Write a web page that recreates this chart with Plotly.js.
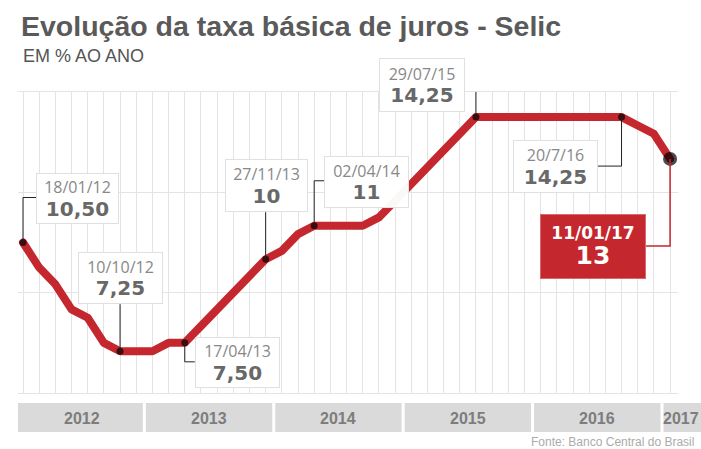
<!DOCTYPE html>
<html><head><meta charset="utf-8">
<script src="https://cdn.plot.ly/plotly-3.0.1.min.js"></script>
<style>html,body{margin:0;padding:0;background:#fff}#chart{width:701px;height:449px}
#chart .js-line{stroke-linejoin:round !important;stroke-linecap:round !important}</style>
</head><body><div id="chart"></div>
<script>
// ---- data ----
const meetingDates = ['18/01/12','07/03/12','18/04/12','30/05/12','11/07/12','29/08/12','10/10/12','28/11/12',
  '16/01/13','06/03/13','17/04/13','29/05/13','10/07/13','28/08/13','09/10/13','27/11/13',
  '15/01/14','26/02/14','02/04/14','28/05/14','16/07/14','03/09/14','29/10/14','03/12/14',
  '21/01/15','04/03/15','29/04/15','03/06/15','29/07/15','02/09/15','21/10/15','25/11/15',
  '20/01/16','02/03/16','27/04/16','08/06/16','20/07/16','31/08/16','19/10/16','30/11/16',
  '11/01/17'];
const selic = [10.50, 9.75, 9.25, 8.50, 8.25, 7.50, 7.25, 7.25,
  7.25, 7.50, 7.50, 8.00, 8.50, 9.00, 9.50, 10.00,
  10.25, 10.75, 11.00, 11.00, 11.00, 11.00, 11.25, 11.75,
  12.25, 12.75, 13.25, 13.75, 14.25, 14.25, 14.25, 14.25,
  14.25, 14.25, 14.25, 14.25, 14.25, 14.25, 14.00, 13.75,
  13.00];
const highlightAt = ['18/01/12','10/10/12','17/04/13','27/11/13','02/04/14','29/07/15','31/08/16','11/01/17'];
const highlightDate = ['18/01/12','10/10/12','17/04/13','27/11/13','02/04/14','29/07/15','20/7/16','11/01/17'];
const highlightValue = ['10,50','7,25','7,50','10','11','14,25','14,25','13'];
const years = ['2012','2013','2014','2015','2016','2017'];
const titleText = 'Evolução da taxa básica de juros - Selic';
const subtitleText = 'EM % AO ANO';
const sourceText = 'Fonte: Banco Central do Brasil';

// ---- styles / placement (pixels relative to the highlighted point) ----
const boxStyle = [
  {dx: 54.5, dy: -44.5, w: 83, h: 51, path: 'M0,0V45H13'},
  {dx: 0.5, dy: -73, w: 85, h: 52, path: 'M0,0V47'},
  {dx: 52.5, dy: 19.5, w: 85, h: 51, path: 'M0,0V-19H10'},
  {dx: 0.5, dy: -73.5, w: 83, h: 53, path: 'M0,0V47'},
  {dx: 52.5, dy: -44, w: 85, h: 52, path: 'M0,0V45H10'},
  {dx: -54, dy: -32, w: 86, h: 54, path: 'M0,0V32H-11'},
  {dx: -66.5, dy: 49.5, w: 85, h: 53, path: 'M0,0V-49H-24'},
  {dx: -77, dy: 87.5, w: 106, h: 65, path: 'M0,0V-87H-24', red: true}
];
const RED = '#c5272e';
const xr = [-0.309, 40.49];
const plotL = 18, plotR = 23, plotT = 92, plotB = 56, W = 701, H = 449;
const pw = W - plotL - plotR, ph = H - plotT - plotB;
const idxToPaper = i => (i - xr[0]) / (xr[1] - xr[0]);
const pxToPaperX = px => (px - plotL) / pw;
const pxToPaperY = py => (H - plotB - py) / ph;

const hlIdx = highlightAt.map(d => meetingDates.indexOf(d));
const hlY = hlIdx.map(i => selic[i]);

const traces = [
  {x: meetingDates, y: selic, type: 'scatter', mode: 'lines',
   line: {color: RED, width: 8, shape: 'linear'}, hoverinfo: 'skip'},
  {x: highlightAt, y: hlY, type: 'scatter', mode: 'markers',
   marker: {color: '#000000', size: hlIdx.map((v, k) => k === hlIdx.length - 1 ? 14 : 7), line: {width: 0}}, hoverinfo: 'skip'}
];

const shapes = [];
const annotations = [];
// year band
years.forEach((yr, k) => {
  const gap = 1.5 / 16.175;
  let x0 = idxToPaper(8 * k - 0.5 + gap), x1 = idxToPaper(8 * k + 7.5 - gap);
  if (k === 0) x0 = 0;
  if (k === years.length - 1) x1 = pxToPaperX(W + 2);
  shapes.push({type: 'rect', xref: 'paper', yref: 'paper', x0: x0, x1: x1,
    y0: pxToPaperY(403), y1: pxToPaperY(432), fillcolor: '#dadada', line: {width: 0}, layer: 'below'});
  const cx = k === years.length - 1 ? pxToPaperX(681) : (idxToPaper(8 * k - 0.5) + idxToPaper(8 * k + 7.5)) / 2 + (k === 0 ? 0.003 : 0);
  annotations.push({text: yr, xref: 'paper', yref: 'paper', x: cx, y: pxToPaperY(418),
    xanchor: 'center', yanchor: 'middle', showarrow: false,
    font: {family: 'Liberation Sans Narrow, Liberation Sans, Arial, sans-serif', size: 16, weight: 700, color: '#7d7d7d'}});
});
// connectors + boxes
boxStyle.forEach((s, k) => {
  shapes.push({type: 'path', xref: 'x', yref: 'y', xsizemode: 'pixel', ysizemode: 'pixel',
    xanchor: hlIdx[k], yanchor: hlY[k], path: s.path,
    line: {color: s.red ? RED : '#222', width: s.red ? 1.5 : 1}});
  let text, font;
  if (s.red) {
    text = '<span style="font-family:DejaVu Sans;font-weight:bold;font-size:17px">' + highlightDate[k] +
      '</span><br><span style="font-family:DejaVu Sans;font-weight:bold;font-size:25px">' + highlightValue[k] + '</span>';
    font = {family: 'DejaVu Sans', size: 19, color: '#ffffff'};
  } else {
    text = '<span style="font-size:16px">' + highlightDate[k] +
      '</span><br><span style="font-family:DejaVu Sans;font-weight:bold;font-size:20px;color:#686868">' + highlightValue[k] + '</span>';
    font = {family: 'Open Sans, Liberation Sans, sans-serif', size: 17, color: '#888888'};
  }
  annotations.push({text: text, x: hlIdx[k], y: hlY[k], xref: 'x', yref: 'y',
    xshift: s.dx, yshift: -s.dy, xanchor: 'center', yanchor: 'middle', showarrow: false,
    width: s.w - 2, height: s.h - 2, borderpad: 0, borderwidth: 1,
    bordercolor: s.red ? '#d86a6e' : '#e0e0e0', bgcolor: s.red ? RED : 'rgba(255,255,255,0.97)',
    align: 'center', valign: 'middle', font: font});
});
// titles
annotations.push({text: titleText, xref: 'paper', yref: 'paper', x: pxToPaperX(19), y: pxToPaperY(26.5),
  xanchor: 'left', yanchor: 'middle', showarrow: false,
  font: {family: 'Liberation Sans, Arial, sans-serif', size: 28.5, weight: 700, color: '#5a5a5a'}});
annotations.push({text: subtitleText, xref: 'paper', yref: 'paper', x: pxToPaperX(21), y: pxToPaperY(56),
  xanchor: 'left', yanchor: 'middle', showarrow: false,
  font: {family: 'Liberation Sans, Arial, sans-serif', size: 18, color: '#555555'}});
annotations.push({text: sourceText, xref: 'paper', yref: 'paper', x: pxToPaperX(696), y: pxToPaperY(442),
  xanchor: 'right', yanchor: 'middle', showarrow: false,
  font: {family: 'Liberation Sans, Arial, sans-serif', size: 12, color: '#ababab'}});

const layout = {
  width: W, height: H,
  margin: {l: plotL, r: plotR, t: plotT, b: plotB, pad: 0},
  paper_bgcolor: '#ffffff', plot_bgcolor: '#ffffff',
  showlegend: false,
  xaxis: {type: 'category', range: xr, showgrid: true, gridcolor: '#e4e4e4', gridwidth: 1,
    showticklabels: false, ticks: '', zeroline: false, showline: true, mirror: true, linecolor: '#e4e4e4', linewidth: 1,
    fixedrange: true},
  yaxis: {range: [6, 15], tickvals: [6, 9, 12, 15], showgrid: true, gridcolor: '#e4e4e4', gridwidth: 1,
    showticklabels: false, ticks: '', zeroline: false, showline: false, fixedrange: true},
  shapes: shapes,
  annotations: annotations
};
Plotly.newPlot('chart', traces, layout, {displayModeBar: false, staticPlot: true});
</script>
</body></html>
